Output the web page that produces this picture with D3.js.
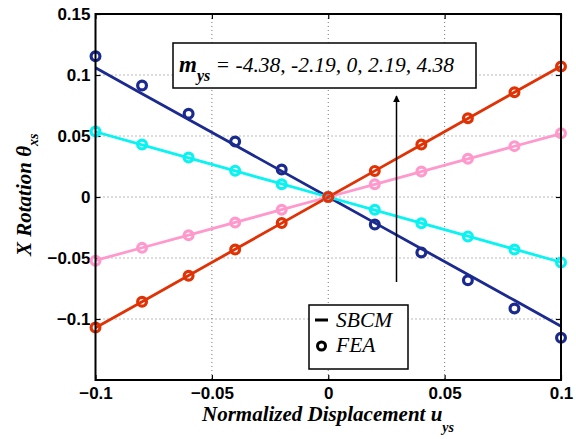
<!DOCTYPE html>
<html>
<head>
<meta charset="utf-8">
<script src="https://cdn.jsdelivr.net/npm/d3@7"></script>
<style>
  html, body { margin: 0; padding: 0; background: #fff; }
  svg { display: block; }
</style>
</head>
<body>
<svg id="chart" width="576" height="439"></svg>
<script>
// Normalized displacement samples
const displacement = [-0.1, -0.08, -0.06, -0.04, -0.02, 0, 0.02, 0.04, 0.06, 0.08, 0.1];

// SBCM model curves, one per m_ys value
const sbcmM438neg = [0.1059, 0.0847, 0.0635, 0.0424, 0.0212, 0, -0.0212, -0.0424, -0.0635, -0.0847, -0.1059];
const sbcmM219neg = [0.0535, 0.0428, 0.0321, 0.0214, 0.0107, 0, -0.0107, -0.0214, -0.0321, -0.0428, -0.0535];
const sbcmM219pos = [-0.052, -0.0416, -0.0312, -0.0208, -0.0104, 0, 0.0104, 0.0208, 0.0312, 0.0416, 0.052];
const sbcmM438pos = [-0.1072, -0.0858, -0.0643, -0.0429, -0.0214, 0, 0.0214, 0.0429, 0.0643, 0.0858, 0.1072];

// FEA results, one per m_ys value
const feaM438neg = [0.1154, 0.0914, 0.0682, 0.0455, 0.0225, 0, -0.0225, -0.0455, -0.0682, -0.0914, -0.1154];
const feaM219neg = [0.0536, 0.043, 0.0323, 0.0216, 0.0105, 0, -0.0105, -0.0216, -0.0323, -0.043, -0.0536];
const feaM219pos = [-0.0522, -0.0417, -0.0313, -0.0209, -0.0104, 0, 0.0104, 0.0209, 0.0313, 0.0417, 0.0522];
const feaM438pos = [-0.107, -0.0859, -0.0646, -0.043, -0.0214, 0, 0.0214, 0.043, 0.0646, 0.0859, 0.107];

const seriesColors = ["#1a2a8f", "#0af2f2", "#ff99cc", "#e03204"];
const sbcmSeries = [sbcmM438neg, sbcmM219neg, sbcmM219pos, sbcmM438pos];
const feaSeries = [feaM438neg, feaM219neg, feaM219pos, feaM438pos];

const xTicks = [-0.1, -0.05, 0, 0.05, 0.1];
const yTicks = [-0.1, -0.05, 0, 0.05, 0.1, 0.15];
const yGrid = [-0.1, -0.05, 0, 0.05, 0.1];
const xGrid = [-0.05, 0, 0.05];

const annotationText = " = -4.38, -2.19, 0, 2.19, 4.38";

const SERIF = "Liberation Serif";
const SANS = "Liberation Sans";

const svg = d3.select("#chart");
const plot = { left: 95.5, right: 561, top: 14, bottom: 380 };

const x = d3.scaleLinear().domain([-0.1, 0.1]).range([plot.left, plot.right]);
const y = d3.scaleLinear().domain([-0.15, 0.15]).range([plot.bottom, plot.top]);

// dotted grid
const grid = svg.append("g").attr("stroke", "#777").attr("stroke-width", 1).attr("stroke-dasharray", "1,3");
grid.selectAll("line.gx").data(xGrid).join("line")
  .attr("x1", d => x(d)).attr("x2", d => x(d))
  .attr("y1", plot.top).attr("y2", plot.bottom);
grid.selectAll("line.gy").data(yGrid).join("line")
  .attr("x1", plot.left).attr("x2", plot.right)
  .attr("y1", d => y(d)).attr("y2", d => y(d));

// axes with inward ticks
const bottomAxis = svg.append("g").attr("transform", `translate(0,${plot.bottom})`)
  .call(d3.axisBottom(x).tickValues(xTicks).tickSize(-5).tickPadding(9).tickFormat(d3.format("")));
const leftAxis = svg.append("g").attr("transform", `translate(${plot.left},0)`)
  .call(d3.axisLeft(y).tickValues(yTicks).tickSize(-5).tickPadding(5).tickFormat(d3.format("")));
const topAxis = svg.append("g").attr("transform", `translate(0,${plot.top})`)
  .call(d3.axisTop(x).tickValues(xTicks).tickSize(-5).tickFormat(""));
const rightAxis = svg.append("g").attr("transform", `translate(${plot.right},0)`)
  .call(d3.axisRight(y).tickValues(yTicks).tickSize(-5).tickFormat(""));
[bottomAxis, leftAxis, topAxis, rightAxis].forEach(a => {
  a.select(".domain").remove();
  a.attr("font-family", SANS).attr("font-size", 17).attr("font-weight", "bold");
  a.selectAll(".tick line").attr("stroke", "#000").attr("stroke-width", 1.2);
  a.selectAll(".tick text").attr("fill", "#000");
});
bottomAxis.selectAll(".tick text").attr("dy", null).attr("y", 18.5);

// plotted series
const lineGen = d3.line().x((d, i) => x(displacement[i])).y(d => y(d));
sbcmSeries.forEach((vals, k) => {
  svg.append("path").datum(vals)
    .attr("d", lineGen).attr("fill", "none")
    .attr("stroke", seriesColors[k]).attr("stroke-width", 2.8);
});
feaSeries.forEach((vals, k) => {
  svg.append("g").selectAll("circle").data(vals).join("circle")
    .attr("cx", (d, i) => x(displacement[i])).attr("cy", d => y(d))
    .attr("r", 4.4).attr("fill", "none")
    .attr("stroke", seriesColors[k]).attr("stroke-width", 3.2);
});

// box frame
svg.append("rect")
  .attr("x", plot.left).attr("y", plot.top)
  .attr("width", plot.right - plot.left).attr("height", plot.bottom - plot.top)
  .attr("fill", "none").attr("stroke", "#000").attr("stroke-width", 2);

// helper for italic serif text
function serifText(sel) {
  return sel.attr("font-family", SERIF).attr("font-style", "italic").attr("fill", "#000");
}

// axis titles
const xt = serifText(svg.append("text")).attr("x", 202).attr("y", 420.5)
  .attr("font-weight", "bold").attr("font-size", 21);
xt.append("tspan").text("Normalized Displacement u");
xt.append("tspan").attr("dy", 11).attr("font-size", 14).text("ys");

const yt = serifText(svg.append("text")).attr("transform", "translate(31,256) rotate(-90)")
  .attr("font-weight", "bold").attr("font-size", 21);
yt.append("tspan").text("X Rotation θ");
yt.append("tspan").attr("dy", 7).attr("font-size", 14).text("xs");

// arrow indicating increasing m_ys
svg.append("defs").append("marker")
  .attr("id", "arrowHead").attr("viewBox", "0 0 10 10")
  .attr("refX", 9).attr("refY", 5).attr("markerWidth", 7).attr("markerHeight", 8)
  .attr("markerUnits", "userSpaceOnUse").attr("orient", "auto")
  .append("path").attr("d", "M0,0 L10,5 L0,10 Z").attr("fill", "#000");
svg.append("line")
  .attr("x1", 396.5).attr("x2", 396.5).attr("y1", 282).attr("y2", 96)
  .attr("stroke", "#000").attr("stroke-width", 1.5)
  .attr("marker-end", "url(#arrowHead)");

// m_ys annotation
svg.append("rect").attr("x", 173).attr("y", 43).attr("width", 303).attr("height", 45)
  .attr("fill", "#fff").attr("stroke", "#000").attr("stroke-width", 1.5);
const at = serifText(svg.append("text")).attr("x", 179).attr("y", 72);
at.append("tspan").attr("font-weight", "bold").attr("font-size", 23).text("m");
at.append("tspan").attr("dy", 9).attr("font-weight", "bold").attr("font-size", 16).text("ys");
at.append("tspan").attr("dy", -9).attr("font-size", 21.5).text(annotationText);

// legend
svg.append("rect").attr("x", 309).attr("y", 305).attr("width", 99).attr("height", 64)
  .attr("fill", "#fff").attr("stroke", "#000").attr("stroke-width", 1.5);
svg.append("line").attr("x1", 315).attr("x2", 328).attr("y1", 320).attr("y2", 320)
  .attr("stroke", "#000").attr("stroke-width", 3);
svg.append("circle").attr("cx", 321.5).attr("cy", 346).attr("r", 4)
  .attr("fill", "none").attr("stroke", "#000").attr("stroke-width", 3);
const legendLabels = ["SBCM", "FEA"];
serifText(svg.selectAll("text.legend").data(legendLabels).join("text"))
  .attr("class", "legend")
  .attr("x", 336).attr("y", (d, i) => 327 + i * 25)
  .attr("font-size", 21.5)
  .text(d => d);
</script>
</body>
</html>
